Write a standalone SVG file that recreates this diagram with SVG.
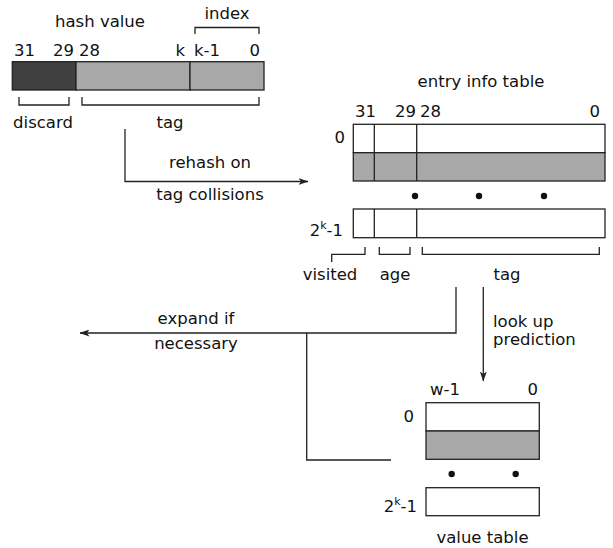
<svg xmlns="http://www.w3.org/2000/svg" width="613" height="548" viewBox="0 0 613 548">
<style>
text{font-family:"DejaVu Sans",sans-serif;font-size:16.5px;fill:#111}
.s{font-size:11px}
.ln{fill:none;stroke:#222;stroke-width:1.3}
.bx{stroke:#222;stroke-width:1.3}
.w{fill:#fff}.g{fill:#a8a8a8}.d{fill:#404040}
.m{text-anchor:middle}.e{text-anchor:end}
</style>
<defs>
<marker id="ar" viewBox="0 0 10 7" refX="9.5" refY="3.5" markerWidth="10" markerHeight="7" markerUnits="userSpaceOnUse" orient="auto">
<path d="M0,0 L10,3.5 L0,7 L2.5,3.5 Z" fill="#222"/>
</marker>
</defs>
<rect width="613" height="548" fill="#fff"/>
<g id="hash">
<text x="100" y="27" class="m">hash value</text>
<text x="227" y="19" class="m">index</text>
<path class="ln" d="M195,34 V27.5 H259 V34"/>
<text x="14" y="56">31</text>
<text x="53" y="56">29</text>
<text x="79" y="56">28</text>
<text x="185" y="56" class="e">k</text>
<text x="194" y="56">k-1</text>
<text x="260" y="56" class="e">0</text>
<rect class="bx d" x="12.3" y="61.7" width="63.7" height="28.3"/>
<rect class="bx g" x="76" y="61.7" width="114" height="28.3"/>
<rect class="bx g" x="190" y="61.7" width="74" height="28.3"/>
<path class="ln" d="M19,97 V105 H69 V97 M82,97 V105 H259 V97"/>
<text x="43" y="128" class="m">discard</text>
<text x="170" y="128" class="m">tag</text>
</g>
<g id="entry">
<text x="481" y="87" class="m">entry info table</text>
<text x="355" y="117">31</text>
<text x="395" y="117">29</text>
<text x="420" y="117">28</text>
<text x="600" y="117" class="e">0</text>
<text x="345" y="143" class="e">0</text>
<rect class="bx w" x="353.3" y="124.3" width="251.7" height="28.4"/>
<rect class="bx g" x="353.3" y="152.7" width="251.7" height="28.3"/>
<path class="ln" d="M374.3,124.3 V181 M416.7,124.3 V181"/>
<circle cx="415" cy="196" r="3.2" fill="#111"/>
<circle cx="479" cy="196" r="3.2" fill="#111"/>
<circle cx="544" cy="196" r="3.2" fill="#111"/>
<text x="343" y="236" class="e">2<tspan class="s" dy="-7">k</tspan><tspan dy="7">-1</tspan></text>
<rect class="bx w" x="353.3" y="209" width="251.7" height="28.7"/>
<path class="ln" d="M374.3,209 V237.7 M416.7,209 V237.7"/>
<path class="ln" d="M331.7,262 V254.3 H365 V247 M379.3,247 V254.3 H410 V247 M422.3,247 V254.3 H599.3 V247"/>
<text x="330" y="280" class="m">visited</text>
<text x="395" y="280" class="m">age</text>
<text x="507" y="280" class="m">tag</text>
</g>
<g id="value">
<text x="430" y="395">w-1</text>
<text x="538" y="395" class="e">0</text>
<text x="414" y="422" class="e">0</text>
<rect class="bx w" x="426" y="402.7" width="113.3" height="28.3"/>
<rect class="bx g" x="426" y="431" width="113.3" height="28.3"/>
<circle cx="451.7" cy="474" r="3.2" fill="#111"/>
<circle cx="515.7" cy="474" r="3.2" fill="#111"/>
<text x="417" y="512" class="e">2<tspan class="s" dy="-7">k</tspan><tspan dy="7">-1</tspan></text>
<rect class="bx w" x="426" y="487.7" width="113.3" height="28"/>
<text x="482.5" y="543" class="m">value table</text>
</g>
<g id="connectors">
<path class="ln" d="M125,129 V181.5 H308" marker-end="url(#ar)"/>
<text x="210" y="168" class="m">rehash on</text>
<text x="210" y="200" class="m">tag collisions</text>
<path class="ln" d="M456,287 V333 H80" marker-end="url(#ar)"/>
<path class="ln" d="M306.7,333 V460 H391"/>
<text x="196" y="324" class="m">expand if</text>
<text x="196" y="349" class="m">necessary</text>
<path class="ln" d="M483.3,287 V381" marker-end="url(#ar)"/>
<text x="493" y="327">look up</text>
<text x="493" y="345">prediction</text>
</g>
</svg>
